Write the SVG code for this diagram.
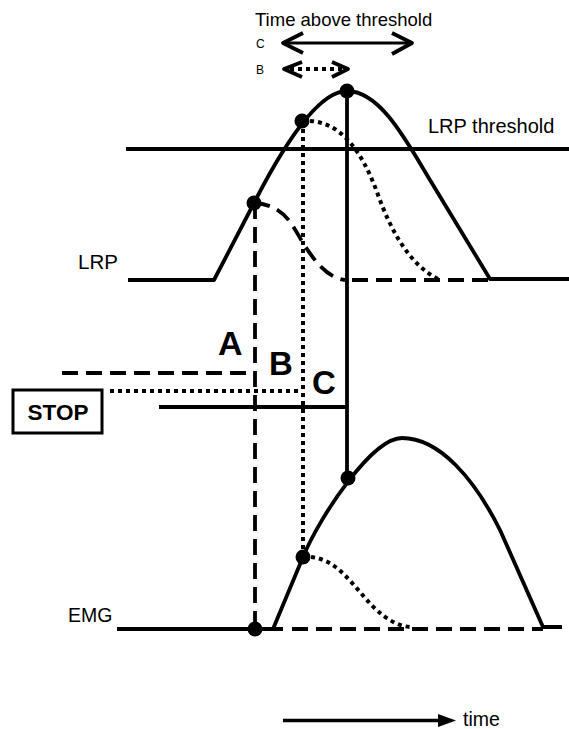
<svg xmlns="http://www.w3.org/2000/svg" width="569" height="729" viewBox="0 0 569 729">
<style>
.s{fill:none;stroke:#000;stroke-width:3.8;stroke-linejoin:round}
.d{fill:none;stroke:#000;stroke-width:3.8;stroke-dasharray:16 8}
.o{fill:none;stroke:#000;stroke-width:4;stroke-dasharray:4 4}
.t{font-family:"Liberation Sans",Arial,sans-serif;fill:#000}
.b{font-family:"Liberation Sans",Arial,sans-serif;font-weight:bold;fill:#000}
.dot{fill:#000}
</style>
<rect width="569" height="729" fill="#fff"/>
<g id="header">
<text class="t" x="255" y="26" font-size="18.5">Time above threshold</text>
<text class="t" x="256" y="48" font-size="12">C</text>
<text class="t" x="256" y="74" font-size="12">B</text>
<line x1="284" y1="43" x2="410" y2="43" stroke="#000" stroke-width="3"/>
<polyline class="s" stroke-width="4" points="303,33 283,43 303,53"/>
<polyline class="s" stroke-width="4" points="392,33 412,43 392,54"/>
<line class="o" x1="290" y1="69" x2="342" y2="69" stroke-width="3.5"/>
<polyline class="s" stroke-width="4" points="302,62 284,69 302,77"/>
<polyline class="s" stroke-width="4" points="332,62 348,69 332,77"/>
</g>
<g id="threshold">
<line class="s" x1="126" y1="149" x2="569" y2="149"/>
<text class="t" x="428" y="133" font-size="20">LRP threshold</text>
</g>
<g id="lrp">
<text class="t" x="78" y="269" font-size="20.5">LRP</text>
<path class="s" d="M128,280 L214,280 L254,203 C276,160 315,91 347,91 C380,91 406,140 430,180 L490,279 L569,279"/>
<path class="o" d="M302,121 C340,118 362,152 377,192 C392,235 412,266 438,279"/>
<path class="d" d="M254,203 C285,205 292,225 303,243 C315,262 328,278 345,280"/>
<line class="d" x1="352" y1="280" x2="490" y2="280"/>
</g>
<g id="emg">
<text class="t" x="68" y="622" font-size="19.5">EMG</text>
<path class="s" d="M117,629 L283,629 M273,629 L303,557 C320,516 372,438 402,438 C440,438 475,480 500,530 L543,627 L562,627"/>
<path class="o" d="M303,557 C330,555 345,575 360,592 C375,610 390,625 410,627"/>
<line class="d" x1="292" y1="629" x2="543" y2="629"/>
</g>
<g id="connectors">
<line class="d" x1="255" y1="203" x2="255" y2="629"/>
<line class="o" x1="303" y1="121" x2="303" y2="557"/>
<line class="s" x1="347" y1="91" x2="347" y2="478"/>
<line class="d" x1="62" y1="373" x2="248" y2="373"/>
<line class="o" x1="110" y1="391" x2="302" y2="391"/>
<line class="s" x1="159" y1="407" x2="348" y2="407"/>
</g>
<g id="labels">
<text class="b" x="218" y="355" font-size="34">A</text>
<text class="b" x="269" y="375" font-size="33">B</text>
<text class="b" x="312" y="394" font-size="33">C</text>
</g>
<g id="stop">
<rect x="13" y="390" width="89" height="43" fill="#fff" stroke="#000" stroke-width="3"/>
<text class="b" x="58" y="420" font-size="22.5" text-anchor="middle">STOP</text>
</g>
<g id="points">
<circle class="dot" cx="254" cy="203" r="7.5"/>
<circle class="dot" cx="302" cy="121" r="7.5"/>
<circle class="dot" cx="347" cy="91" r="7.5"/>
<circle class="dot" cx="348" cy="478" r="7.5"/>
<circle class="dot" cx="303" cy="557" r="7.5"/>
<circle class="dot" cx="255" cy="629" r="7.5"/>
</g>
<g id="time-axis">
<line x1="283" y1="720.5" x2="440" y2="720.5" stroke="#000" stroke-width="3.5"/>
<polygon points="438,714 456,720.5 438,727" fill="#000"/>
<text class="t" x="463" y="726" font-size="19.5">time</text>
</g>
</svg>
